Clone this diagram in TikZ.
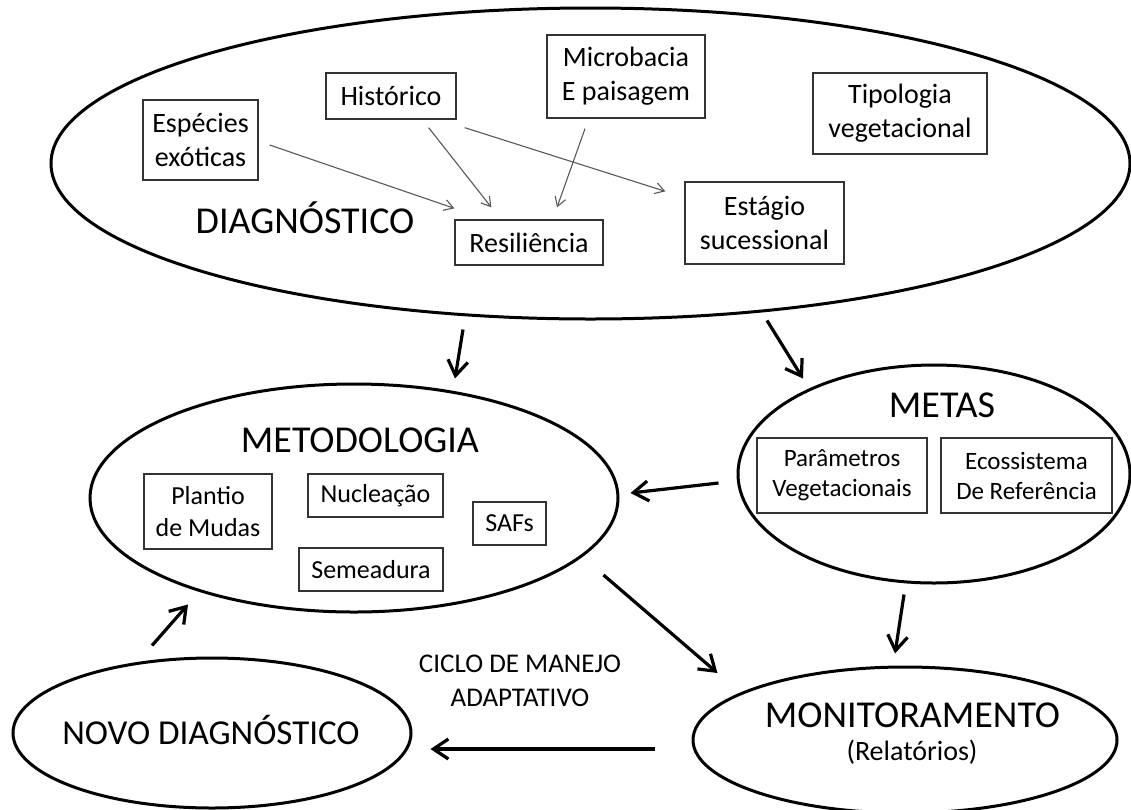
\documentclass[tikz,border=0pt]{standalone}
\usepackage{fontspec}
\setmainfont{Carlito}
\usetikzlibrary{shapes.geometric,arrows.meta}
\begin{document}
\begin{tikzpicture}[x=1pt,y=-1pt,
  bigell/.style={draw=black, ellipse, line width=3, inner sep=0},
  box/.style={draw=black!80, line width=1.3, inner sep=0, align=center},
  boxA/.style={box, font=\fontsize{28}{34}\selectfont},
  boxB/.style={box, font=\fontsize{26}{32}\selectfont},
  boxC/.style={box, font=\fontsize{25}{30}\selectfont},
  title/.style={font=\fontsize{38}{42}\selectfont, inner sep=0, anchor=base},
  thinarr/.style={draw=black!65, line width=1.1, -{Straight Barb[length=9,width=11]}},
  thickarr/.style={draw=black, line width=3.2, -{Straight Barb[length=15,width=20]}}
]
\useasboundingbox[fill=white] (0,0) rectangle (1131,809);

% ellipses
\node[bigell, minimum width=1079, minimum height=311] (diag) at (590.5,163.5) {};
\node[bigell, minimum width=528, minimum height=228] (metod) at (354,498) {};
\node[bigell, minimum width=392, minimum height=218] (metas) at (934,474) {};
\node[bigell, minimum width=424, minimum height=146] (monit) at (905,740) {};
\node[bigell, minimum width=398, minimum height=150] (novo) at (212,733) {};

% titles
\node[title] (tdiag) at (305,233) {DIAGNÓSTICO};
\node[title] (tmetod) at (360,452) {METODOLOGIA};
\node[title] (tmetas) at (942,417) {METAS};
\node[title] (tmonit) at (912.5,727) {MONITORAMENTO};
\node[inner sep=0, anchor=base, font=\fontsize{28}{32}\selectfont] (trel) at (912,760) {(Relatórios)};
\node[title, font=\fontsize{35}{40}\selectfont] (tnovo) at (211,744) {NOVO DIAGNÓSTICO};
\node[inner sep=0, align=center, font=\fontsize{27}{34}\selectfont] (ciclo) at (520,680.5) {CICLO DE MANEJO\\ADAPTATIVO};

% diagnostic boxes
\node[boxA, minimum width=115, minimum height=80] (esp) at (200.5,140) {Espécies\\exóticas};
\node[boxA, minimum width=130, minimum height=46] (hist) at (391,96) {Histórico};
\node[boxA, minimum width=158, minimum height=83] (micro) at (626,76.5) {Microbacia\\E paisagem};
\node[boxA, minimum width=174, minimum height=81] (tipo) at (900,113.5) {Tipologia\\vegetacional};
\node[boxA, minimum width=148, minimum height=45] (res) at (529,242.5) {Resiliência};
\node[boxA, minimum width=159, minimum height=82] (est) at (764.5,223) {Estágio\\sucessional};

% metodologia boxes
\node[boxB, minimum width=128, minimum height=75] (plantio) at (208,511.5) {Plantio\\de Mudas};
\node[boxB, minimum width=135, minimum height=43] (nucl) at (375.5,495.5) {Nucleação};
\node[boxB, minimum width=144, minimum height=43] (seme) at (371,569.5) {Semeadura};
\node[boxB, minimum width=73, minimum height=43] (safs) at (509.5,523.5) {SAFs};

% metas boxes
\node[boxC, minimum width=170, minimum height=75] (param) at (842,475.5) {Parâmetros\\Vegetacionais};
\node[boxC, minimum width=171, minimum height=75] (eco) at (1026.5,475.5) {Ecossistema\\De Referência};

% thin arrows
\draw[thinarr] ([shift={(11,5)}]esp.east) -- ([shift={(0,-11)}]res.north west);
\draw[thinarr] ([shift={(-28,8)}]hist.south east) -- ([shift={(37,-12)}]res.north west);
\draw[thinarr] ([shift={(8,8)}]hist.south east) -- ([shift={(-19,10)}]est.north west);
\draw[thinarr] ([shift={(-41,10)}]micro.south) -- ([shift={(28,-12)}]res.north);

% thick arrows
\draw[thickarr] ([shift={(-127.5,9)}]diag.south) -- ([shift={(101,-4)}]metod.north);
\draw[thickarr] ([shift={(176.5,0)}]diag.south) -- ([shift={(-131,15)}]metas.north);
\draw[thickarr] ([shift={(-18,9)}]metas.west) -- ([shift={(11,-5)}]metod.east);
\draw[thickarr] ([shift={(-30,10)}]metas.south) -- ([shift={(-10,-12)}]monit.north);
\draw[thickarr] ([shift={(-16,77)}]metod.east) -- ([shift={(26,-67)}]monit.west);
\draw[thickarr] ([shift={(-37,9)}]monit.west) -- ([shift={(18,16)}]novo.east);
\draw[thickarr] ([shift={(-60,-11)}]novo.north) -- ([shift={(-166,-9)}]metod.south);
\end{tikzpicture}
\end{document}
